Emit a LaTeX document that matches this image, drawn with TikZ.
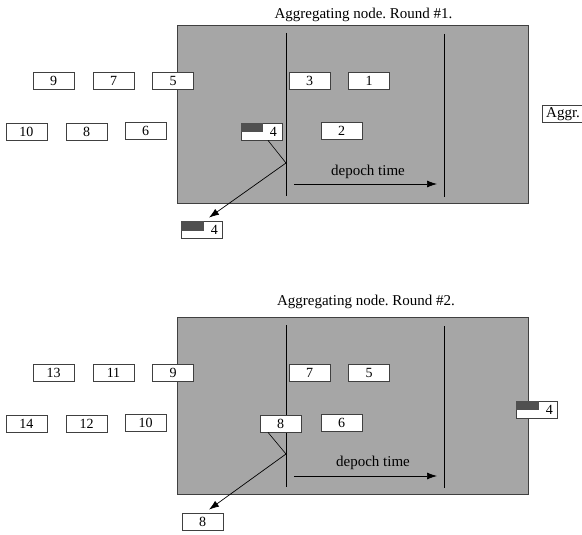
\documentclass[tikz,border=0pt]{standalone}
\usepackage{fontspec}
\setmainfont{Liberation Serif}
\usetikzlibrary{arrows.meta}
\frenchspacing
\definecolor{panelgray}{HTML}{A6A6A6}
\definecolor{edgegray}{HTML}{404040}
\definecolor{bargray}{HTML}{505050}
\tikzset{
  panel/.style={draw=edgegray, fill=panelgray, line width=0.9pt},
  msgbox/.style={draw=edgegray, fill=white, line width=0.8pt, minimum width=41pt, minimum height=17pt, inner sep=0pt, font=\fontsize{14}{16}\selectfont},
  darkbar/.style={fill=bargray},
  lbl/.style={inner sep=0pt, font=\fontsize{15}{17}\selectfont},
  digit/.style={inner sep=0pt, font=\fontsize{14}{16}\selectfont},
  vline/.style={line width=0.9pt, black},
  conn/.style={line width=0.6pt, black},
  arr/.style={line width=0.7pt, black, -{Latex[length=10pt,width=7pt]}}
}
\begin{document}
\begin{tikzpicture}[x=1pt,y=-1pt]
\useasboundingbox (0,0) rectangle (582,535);
% ---------------- Round 1 ----------------
\node[lbl] (t1) at (363.5,15) {Aggregating node. Round \#1.};
\draw[panel] (177,25) rectangle (528,203);
\draw[vline] (286,33) -- (286,196);
\draw[vline] (444,34) -- (444,197);
\node[msgbox] (a9) at (53.5,81) {9};
\node[msgbox] (a7) at (113.5,81) {7};
\node[msgbox] (a5) at (173,81) {5};
\node[msgbox] (a3) at (309.5,80.5) {3};
\node[msgbox] (a1) at (369,80.5) {1};
\node[msgbox] (a10) at (26.5,131.5) {10};
\node[msgbox] (a8) at (86.5,131.5) {8};
\node[msgbox] (a6) at (145.5,130.5) {6};
\node[msgbox] (a2) at (341.5,130.5) {2};
\node[msgbox] (a4) at (261.5,131.5) {};
\fill[darkbar] (a4.north west) rectangle +(22,9.5);
\node[digit] (a4d) at ([xshift=-9pt]a4.east) {4};
\node[msgbox] (a4o) at (201.5,229.5) {};
\fill[darkbar] (a4o.north west) rectangle +(23,10);
\node[digit] (a4od) at ([xshift=-8pt]a4o.east) {4};
\node[msgbox, minimum width=48pt] (aggr) at (566,113.5) {};
\node[lbl, anchor=west] (aggrt) at (546,114) {Aggr.};
\coordinate (j1) at (286,163);
\draw[conn] ([xshift=6.5pt]a4.south) -- (j1);
\draw[arr] (j1) -- ([xshift=7.5pt,yshift=3pt]a4o.north);
\node[lbl] (d1) at (368,172) {depoch time};
\coordinate (s1) at (294,184);
\coordinate (e1) at (437,184);
\draw[arr] (s1) -- (e1);
% ---------------- Round 2 ----------------
\node[lbl] (t2) at (366,302) {Aggregating node. Round \#2.};
\draw[panel] (177,317) rectangle (528,494);
\draw[vline] (286,325) -- (286,487);
\draw[vline] (444,326) -- (444,488);
\node[msgbox] (b13) at (53.5,373) {13};
\node[msgbox] (b11) at (113.5,373) {11};
\node[msgbox] (b9) at (173,372.5) {9};
\node[msgbox] (b7) at (309.5,372.5) {7};
\node[msgbox] (b5) at (369,372.5) {5};
\node[msgbox] (b14) at (26.5,423.5) {14};
\node[msgbox] (b12) at (86.5,423.5) {12};
\node[msgbox] (b10) at (145.5,422.5) {10};
\node[msgbox] (b6) at (341.5,422.5) {6};
\node[msgbox] (b8) at (280.5,423.5) {8};
\node[msgbox] (b4) at (536.5,410) {};
\fill[darkbar] (b4.north west) rectangle +(23,9);
\node[digit] (b4d) at ([xshift=-8pt]b4.east) {4};
\node[msgbox] (b8o) at (202.5,521.5) {8};
\coordinate (j2) at (286,454);
\draw[conn] ([xshift=-12.5pt]b8.south) -- (j2);
\draw[arr] (j2) -- ([xshift=6.5pt,yshift=3pt]b8o.north);
\node[lbl] (d2) at (373,463) {depoch time};
\coordinate (s2) at (294,476);
\coordinate (e2) at (437,476);
\draw[arr] (s2) -- (e2);
\end{tikzpicture}
\end{document}
